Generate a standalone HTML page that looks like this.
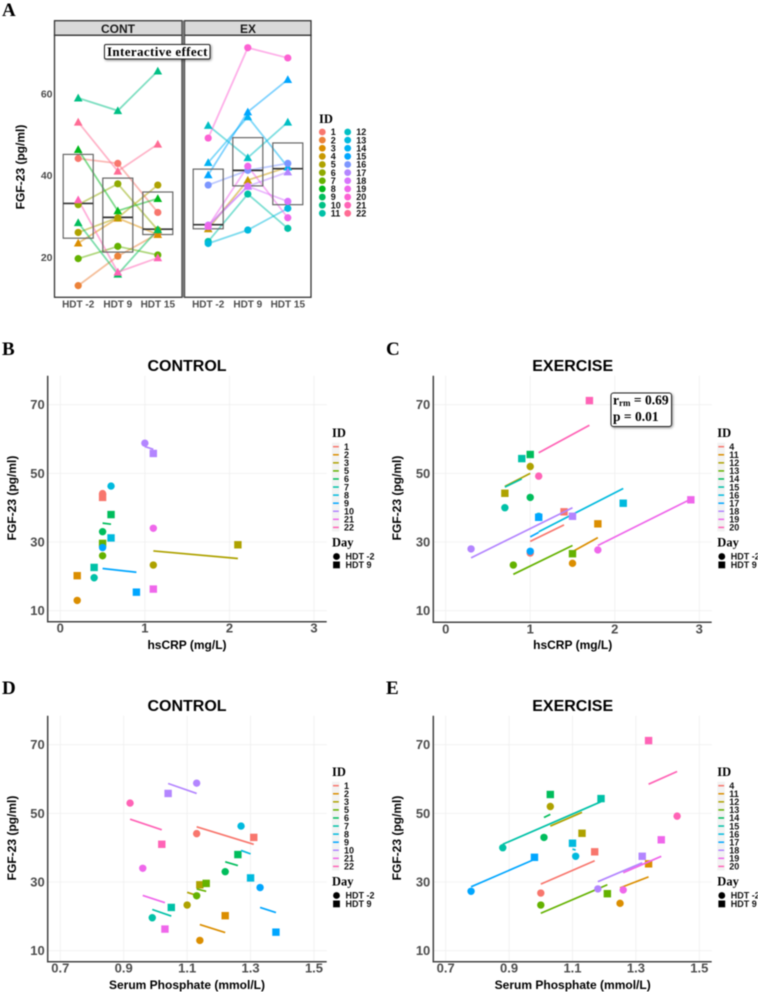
<!DOCTYPE html>
<html lang="en">
<head>
<meta charset="utf-8">
<title>FGF-23 figure</title>
<style>
html,body{margin:0;padding:0;background:#fff;}
body{width:758px;height:992px;overflow:hidden;}
svg{display:block;filter:blur(0.4px);font-family:"Liberation Sans",sans-serif;}
.letter{font-family:"Liberation Serif",serif;font-weight:bold;font-size:19px;fill:#000;}
.ttl{font-weight:bold;font-size:16px;fill:#000;text-anchor:middle;}
.axt{font-weight:bold;font-size:12px;fill:#000;text-anchor:middle;}
.lgt{font-family:"Liberation Serif",serif;font-weight:bold;font-size:12.5px;fill:#000;}
.box{filter:drop-shadow(1px 1px 1.2px rgba(0,0,0,.45));}
.ann{font-family:"Liberation Serif",serif;font-weight:bold;fill:#000;}
</style>
</head>
<body>
<svg id="fig" width="758" height="992" viewBox="0 0 758 992" xmlns="http://www.w3.org/2000/svg">
  <rect width="758" height="992" fill="#fff"/>

  <text class="letter" x="2" y="16">A</text>
  <text class="letter" x="2" y="355">B</text>
  <text class="letter" x="386" y="355">C</text>
  <text class="letter" x="2" y="694">D</text>
  <text class="letter" x="386" y="694">E</text>

  <rect x="54.5" y="20.7" width="127.5" height="14.6" fill="#d9d9d9" stroke="#333" stroke-width="1.3"/>
  <rect x="184.5" y="20.7" width="126.5" height="14.6" fill="#d9d9d9" stroke="#333" stroke-width="1.3"/>
  <text x="118" y="33" text-anchor="middle" font-size="12" font-weight="bold" fill="#1a1a1a">CONT</text>
  <text x="248" y="33" text-anchor="middle" font-size="12" font-weight="bold" fill="#1a1a1a">EX</text>
  <text class="axt" transform="translate(24.5,167) rotate(-90)">FGF-23 (pg/ml)</text>
  <g id="panelA"></g>
  <text class="lgt" x="319" y="123">ID</text>
  <g id="legendA"></g>

  <text class="ttl" x="187" y="371">CONTROL</text>
  <text class="axt" transform="translate(16,498) rotate(-90)">FGF-23 (pg/ml)</text>
  <text class="axt" x="187" y="649">hsCRP (mg/L)</text>
  <g id="panelB"></g>

  <text class="ttl" x="572.7" y="371">EXERCISE</text>
  <text class="axt" transform="translate(401,498) rotate(-90)">FGF-23 (pg/ml)</text>
  <text class="axt" x="572.7" y="649">hsCRP (mg/L)</text>
  <g id="panelC"></g>

  <text class="ttl" x="187" y="711">CONTROL</text>
  <text class="axt" transform="translate(16,838) rotate(-90)">FGF-23 (pg/ml)</text>
  <text class="axt" x="187" y="989">Serum Phosphate (mmol/L)</text>
  <g id="panelD"></g>

  <text class="ttl" x="572.7" y="711">EXERCISE</text>
  <text class="axt" transform="translate(401,838) rotate(-90)">FGF-23 (pg/ml)</text>
  <text class="axt" x="572.7" y="989">Serum Phosphate (mmol/L)</text>
  <g id="panelE"></g>

  <g>
    <rect class="box" x="104.5" y="44.5" width="105.5" height="14.5" rx="1.5" fill="#fff" stroke="#222" stroke-width="1"/>
    <text class="ann" x="107" y="56" font-size="13" textLength="100.5">Interactive effect</text>
  </g>
  <g>
    <rect class="box" x="611" y="393" width="60.5" height="33.5" rx="2.5" fill="#fff" stroke="#222" stroke-width="1"/>
    <text class="ann" x="613" y="404.5" font-size="13.5">r<tspan font-size="9" dy="1.5">rm</tspan><tspan dy="-1.5"> = 0.69</tspan></text>
    <text class="ann" x="613" y="421" font-size="13.5">p = 0.01</text>
  </g>
</svg>
<script>
/* ---------- Panel A data ---------- */
const contIds=[1,2,3,5,6,7,8,9,10,21,22];
const contShapes=['c','c','t','c','c','c','t','t','t','t','t'];
const contHdtM2=[44.1,13,23.4,26,32.8,19.6,46.3,28.4,58.9,34,53];
const contHdt9=[42.9,20.2,29.5,29.6,37.9,22.6,31.3,15.8,55.8,16.3,41];
const contHdt15=[30.9,25.7,25.5,37.6,26.6,20.5,34.3,26.7,65.5,19.8,47.6];
const exIds=[4,11,12,13,14,15,16,17,18,19,20];
const exShapes=['t','c','t','c','t','t','c','t','c','c','c'];
const exHdtM2=[26.9,23.8,52.2,23.3,43.1,40.1,37.6,27.5,27.8,27.5,49.1];
const exHdt9=[38.8,35.4,44.3,26.6,54.3,55.5,41.2,37.3,37.3,42.2,71.2];
const exHdt15=[42,27,53,31.9,42,63.4,42.9,40.8,33.6,29.6,68.7];
const contBoxQ1=[24.6,21.2,25.5];
const contBoxMedian=[33.1,29.7,26.8];
const contBoxQ3=[45.1,39.3,35.9];
const exBoxQ1=[26.9,37.4,32.8];
const exBoxMedian=[27.9,41.2,41.6];
const exBoxQ3=[41.5,49.2,47.9];
const dayLabels=['HDT -2','HDT 9','HDT 15'];
const panelAYTicks=[20,40,60];
const allIds=[1,2,3,4,5,6,7,8,9,10,11,12,13,14,15,16,17,18,19,20,21,22];

/* ---------- Scatter panel shared data ---------- */
const controlIds=[1,2,3,5,6,7,8,9,10,21,22];
const exerciseIds=[4,11,12,13,14,15,16,17,18,19,20];
const fgfTicks=[10,30,50,70];
const crpTicks=[0,1,2,3];
const phosphateTicks=[0.7,0.9,1.1,1.3,1.5];

/* ---------- Panel B ---------- */
const bIds=[1,2,3,5,6,7,8,9,10,21];
const bCircleX=[0.5,0.2,1.1,0.5,0.5,0.4,0.6,0.5,1.0,1.1];
const bCircleY=[44.1,13,23.3,26,33,19.6,46.3,28.4,58.8,34];
const bSquareX=[0.5,0.2,2.1,0.5,0.6,0.4,0.6,0.9,1.1,1.1];
const bSquareY=[43,20.2,29.2,29.6,38,22.6,31.2,15.4,55.8,16.3];
const bFitAtCircle=[null,null,27.4,null,35.5,null,null,22.3,57.8,null];
const bFitAtSquare=[null,null,25.2,null,35.2,null,null,21.2,57,null];

/* ---------- Panel C ---------- */
const cIds=[4,11,12,13,14,15,16,17,18,19,20];
const cCircleX=[1.0,1.5,1.0,0.8,1.0,0.7,1.1,1.0,0.3,1.8,1.1];
const cCircleY=[26.8,23.8,52,23.3,43,40,37.5,27.3,28,27.7,49.2];
const cSquareX=[1.4,1.8,0.7,1.5,1.0,0.9,2.1,1.1,1.5,2.9,1.7];
const cSquareY=[38.8,35.3,44.2,26.6,55.5,54.3,41.3,37.2,37.5,42.3,71.2];
const cFitAtCircle=[30.2,27.2,50,20.6,null,46,33,31.5,25.4,29,56];
const cFitAtSquare=[35,31.3,46.2,29,null,48.4,45.6,32.8,40,42.5,64];

/* ---------- Panel D ---------- */
const dIds=[1,2,3,5,6,7,8,9,10,21,22];
const dCircleX=[1.13,1.14,1.10,1.13,1.22,0.99,1.27,1.33,1.13,0.96,0.92];
const dCircleY=[44.1,13,23.3,26,33,19.6,46.3,28.4,58.8,34,53];
const dSquareX=[1.31,1.22,1.14,1.16,1.26,1.05,1.30,1.38,1.04,1.03,1.02];
const dSquareY=[43,20.2,29.2,29.6,38,22.6,31.2,15.4,55.8,16.3,41];
const dFitAtCircle=[46.1,17.6,27,28,35.9,22,39.2,22.6,55.8,26.1,48.3];
const dFitAtSquare=[41,15.3,25.8,27.3,34.8,20.1,38.2,21.1,58.7,24,45.2];

/* ---------- Panel E ---------- */
const eIds=[4,11,12,13,14,15,16,17,18,19,20];
const eCircleX=[1.0,1.25,1.03,1.0,1.01,0.88,1.11,0.78,1.18,1.26,1.43];
const eCircleY=[26.8,23.8,52,23.3,43,40,37.5,27.3,28,27.7,49.2];
const eSquareX=[1.17,1.34,1.13,1.21,1.03,1.19,1.10,0.98,1.32,1.38,1.34];
const eSquareY=[38.8,35.3,44.2,26.6,55.5,54.3,41.3,37.2,37.5,42.3,71.2];
const eFitAtCircle=[29.4,28.3,46.3,20.9,48.8,41,39.3,28.6,30.1,32.7,62.2];
const eFitAtSquare=[36.2,31.5,50.3,29.2,49.7,53.4,39.6,36.6,35.6,37.5,58.5];

const legendDayLabels=['HDT -2','HDT 9'];

const NS='http://www.w3.org/2000/svg';
function mk(parent,tag,attrs){
  const el=document.createElementNS(NS,tag);
  for(const k in attrs){el.setAttribute(k,attrs[k]);}
  parent.appendChild(el);
  return el;
}
function linear(d0,d1,r0,r1){return v=>r0+(v-d0)*(r1-r0)/(d1-d0);}

/* ggplot2 default hue palette (hcl, c=100, l=65) */
function hue(i,n){
  const h=(15+360*i/n)*Math.PI/180,C=100,L=65;
  const Y=Math.pow((L+16)/116,3);
  const up=C*Math.cos(h)/(13*L)+0.19784,vp=C*Math.sin(h)/(13*L)+0.46834;
  const X=9*Y*up/(4*vp),Z=Y*(12-3*up-20*vp)/(4*vp);
  const lin=[3.2406*X-1.5372*Y-0.4986*Z,-0.9689*X+1.8758*Y+0.0415*Z,0.0557*X-0.2040*Y+1.0570*Z];
  const ch=lin.map(c=>{
    c=Math.min(1,Math.max(0,c));
    c=c<=0.0031308?12.92*c:1.055*Math.pow(c,1/2.4)-0.055;
    return Math.round(c*255);
  });
  return 'rgb('+ch.join(',')+')';
}

function drawMarker(parent,shape,px,py,color,name,r){
  let el;
  if(shape==='c'){
    el=mk(parent,'circle',{cx:px,cy:py,r:r,fill:color});
  }else if(shape==='s'){
    el=mk(parent,'rect',{x:px-r,y:py-r,width:2*r,height:2*r,fill:color});
  }else{
    const a=r*1.2;
    el=mk(parent,'polygon',{points:(px-a)+','+(py+a*0.8)+' '+(px+a)+','+(py+a*0.8)+' '+px+','+(py-a*1.0),fill:color});
  }
  
  
  return el;
}

/* ---------- Panel A drawing ---------- */
const yA=linear(20,60,257,93.5);
function drawFacet(group,name,left,right,cats,ids,shapes,s1,s2,s3,q1,med,q3){
  const g=group;
  const frame=mk(g,'rect',{x:left,y:35.3,width:right-left,height:262,fill:'#fff',stroke:'none'});
  
  
  ids.forEach((id,i)=>{
    const col=hue(allIds.indexOf(id),allIds.length);
    const pl=mk(g,'polyline',{points:[s1[i],s2[i],s3[i]].map((v,j)=>cats[j]+','+yA(v)).join(' '),fill:'none',stroke:col,'stroke-width':1.8,'stroke-opacity':0.5});
    
    
  });
  cats.forEach((cx,j)=>{
    const b=mk(g,'rect',{x:cx-15,y:yA(q3[j]),width:30,height:yA(q1[j])-yA(q3[j]),fill:'none',stroke:'#666','stroke-width':1.2});
    
    
    const m=mk(g,'line',{x1:cx-15,x2:cx+15,y1:yA(med[j]),y2:yA(med[j]),stroke:'#333','stroke-width':1.7});
    
    
  });
  ids.forEach((id,i)=>{
    const col=hue(allIds.indexOf(id),allIds.length);
    [s1,s2,s3].forEach((s,j)=>{
      drawMarker(g,shapes[i],cats[j],yA(s[i]),col,name+'-point-id-'+id+'-'+j,3.6);
    });
  });
  const border=mk(g,'rect',{x:left,y:35.3,width:right-left,height:262,fill:'none',stroke:'#333','stroke-width':1.3});
  
  
  cats.forEach((cx,j)=>{
    const t=mk(g,'text',{x:cx,y:307.5,'text-anchor':'middle','font-size':10,'font-weight':'bold',fill:'#4d4d4d'});
    t.textContent=dayLabels[j];
    
    
  });
}
const gA=document.getElementById('panelA');
drawFacet(gA,'cont',54.5,182,[78.2,117.8,157.8],contIds,contShapes,contHdtM2,contHdt9,contHdt15,contBoxQ1,contBoxMedian,contBoxQ3);
drawFacet(gA,'ex',184.5,311,[208.2,247.8,287.8],exIds,exShapes,exHdtM2,exHdt9,exHdt15,exBoxQ1,exBoxMedian,exBoxQ3);
const sep=mk(gA,'rect',{x:182,y:20.5,width:2.5,height:277,fill:'#777'});


panelAYTicks.forEach(v=>{
  const t=mk(gA,'text',{x:52.5,y:yA(v)+3.8,'text-anchor':'end','font-size':10.5,'font-weight':'bold',fill:'#4d4d4d'});
  t.textContent=v;
  
  
});
const lgA=document.getElementById('legendA');
allIds.forEach((id,i)=>{
  const col2=i>=11;
  const row=col2?i-11:i;
  const cy=132+row*8.13;
  const cx=col2?347.7:322.3;
  const dot=mk(lgA,'circle',{cx:cx,cy:cy,r:3.4,fill:hue(i,allIds.length)});
  
  
  const t=mk(lgA,'text',{x:cx+8.5,y:cy+3.2,'font-size':9,'font-weight':'bold',fill:'#111'});
  t.textContent=id;
  
  
});

/* ---------- Scatter panels ---------- */
function drawScatter(opt){
  const g=document.getElementById(opt.target);
  const L=opt.left,R=opt.right,T=opt.top,B=opt.bottom;
  const x=linear(opt.xTicks[0],opt.xTicks[opt.xTicks.length-1],opt.x0,opt.x1);
  const y=linear(10,70,opt.y10,opt.y70);
  opt.xTicks.forEach(v=>{
    const gl=mk(g,'line',{x1:x(v),x2:x(v),y1:T,y2:B,stroke:'#efefef','stroke-width':0.8});
    
    
    const t=mk(g,'text',{x:x(v),y:B+11,'text-anchor':'middle','font-size':13,'font-weight':'bold',fill:'#4d4d4d'});
    t.textContent=opt.xFmt(v);
    
    
  });
  fgfTicks.forEach(v=>{
    const gl=mk(g,'line',{x1:L,x2:R,y1:y(v),y2:y(v),stroke:'#efefef','stroke-width':0.8});
    
    
    const t=mk(g,'text',{x:L-3,y:y(v)+4.5,'text-anchor':'end','font-size':13,'font-weight':'bold',fill:'#4d4d4d'});
    t.textContent=v;
    
    
  });
  const ax=mk(g,'polyline',{points:L+','+T+' '+L+','+B+' '+R+','+B,fill:'none',stroke:'#444','stroke-width':1.5});
  
  
  const n=opt.legendIds.length;
  opt.ids.forEach((id,i)=>{
    const col=hue(opt.legendIds.indexOf(id),n);
    if(opt.fitC[i]!==null){
      const ln=mk(g,'line',{x1:x(opt.cx[i]),y1:y(opt.fitC[i]),x2:x(opt.sx[i]),y2:y(opt.fitS[i]),stroke:col,'stroke-width':1.7});
      
      
    }
    drawMarker(g,'s',x(opt.sx[i]),y(opt.sy[i]),col,'point-hdt9-id-'+id,3.7);
    drawMarker(g,'c',x(opt.cx[i]),y(opt.cy[i]),col,'point-hdt-2-id-'+id,3.7);
  });
  /* legend */
  const LX=opt.legendX,LY=opt.legendY;
  const idT=mk(g,'text',{x:LX,y:LY,'class':'lgt'});
  idT.textContent='ID';
  
  
  opt.legendIds.forEach((id,i)=>{
    const cy=LY+9.7+i*8.07;
    const k=mk(g,'rect',{x:LX,y:cy-4,width:7.5,height:8.07,fill:'#f2f2f2'});
    
    
    const l=mk(g,'line',{x1:LX+1,x2:LX+6.8,y1:cy,y2:cy,stroke:hue(i,n),'stroke-width':1.5});
    
    
    const t=mk(g,'text',{x:LX+12,y:cy+3.2,'font-size':9,'font-weight':'bold',fill:'#111'});
    t.textContent=id;
    
    
  });
  const dT=mk(g,'text',{x:LX,y:LY+109.5,'class':'lgt'});
  dT.textContent='Day';
  
  
  legendDayLabels.forEach((lab,i)=>{
    const cy=LY+119.5+i*8.4;
    drawMarker(g,i===0?'c':'s',LX+4.5,cy,'#000','legend-day-key',3.4);
    const t=mk(g,'text',{x:LX+13.5,y:cy+3.2,'font-size':9,'font-weight':'bold',fill:'#111'});
    t.textContent=lab;
    
    
  });
}
const fmt0=v=>String(v);
const fmt1=v=>v.toFixed(1);
drawScatter({target:'panelB',left:47.7,right:326.7,top:375.7,bottom:621.7,x0:60.3,x1:314,y10:610.7,y70:404.7,
  xTicks:crpTicks,xFmt:fmt0,ids:bIds,cx:bCircleX,cy:bCircleY,sx:bSquareX,sy:bSquareY,fitC:bFitAtCircle,fitS:bFitAtSquare,
  legendIds:controlIds,legendX:332,legendY:437});
drawScatter({target:'panelC',left:433.3,right:711.7,top:375.7,bottom:622.3,x0:445.7,x1:699.3,y10:610.7,y70:404.7,
  xTicks:crpTicks,xFmt:fmt0,ids:cIds,cx:cCircleX,cy:cCircleY,sx:cSquareX,sy:cSquareY,fitC:cFitAtCircle,fitS:cFitAtSquare,
  legendIds:exerciseIds,legendX:717.3,legendY:437});
drawScatter({target:'panelD',left:47.7,right:326.7,top:715.7,bottom:961.7,x0:60.3,x1:314,y10:950.7,y70:744.7,
  xTicks:phosphateTicks,xFmt:fmt1,ids:dIds,cx:dCircleX,cy:dCircleY,sx:dSquareX,sy:dSquareY,fitC:dFitAtCircle,fitS:dFitAtSquare,
  legendIds:controlIds,legendX:332,legendY:776});
drawScatter({target:'panelE',left:433.3,right:711.7,top:715.7,bottom:961.7,x0:445.7,x1:699.3,y10:950.7,y70:744.7,
  xTicks:phosphateTicks,xFmt:fmt1,ids:eIds,cx:eCircleX,cy:eCircleY,sx:eSquareX,sy:eSquareY,fitC:eFitAtCircle,fitS:eFitAtSquare,
  legendIds:exerciseIds,legendX:717.3,legendY:776});
</script>
</body>
</html>
